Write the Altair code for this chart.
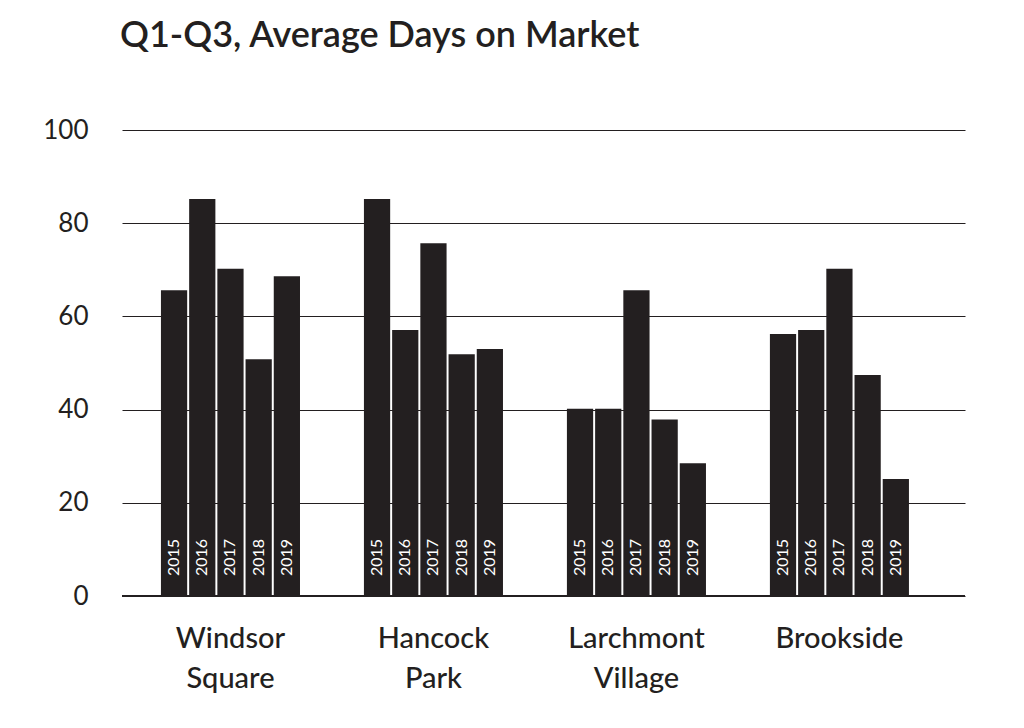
import altair as alt
import pandas as pd

neighborhoods = ["Windsor Square", "Hancock Park", "Larchmont Village", "Brookside"]
years = ["2015", "2016", "2017", "2018", "2019"]
windsor_square = [65.6, 85.2, 70.2, 50.8, 68.6]
hancock_park = [85.2, 57.1, 75.7, 51.9, 53.0]
larchmont_village = [40.2, 40.2, 65.6, 37.9, 28.5]
brookside = [56.2, 57.1, 70.2, 47.4, 25.1]

series = [windsor_square, hancock_park, larchmont_village, brookside]
rows = []
for name, vals in zip(neighborhoods, series):
    for yr, v in zip(years, vals):
        rows.append({"area": name, "year": yr, "days": v})
df = pd.DataFrame(rows)

FONT = "Lato"
DARK = "#231f20"

x_enc = alt.X(
    "area:N",
    sort=neighborhoods,
    title=None,
    scale=alt.Scale(paddingInner=0.315, paddingOuter=0.234, align=0.41),
    axis=alt.Axis(
        labelAngle=0,
        labelFont=FONT,
        labelFontSize=29,
        labelFontWeight=500,
        labelColor=DARK,
        labelPadding=28,
        labelLineHeight=40,
        labelExpr="split(datum.label, ' ')",
        domain=False,
        ticks=False,
        tickSize=0,
        grid=False,
    ),
)
xoff = alt.XOffset("year:N", sort=years, scale=alt.Scale(paddingInner=0.07, paddingOuter=0))

yscale = alt.Scale(domain=[0, 100], nice=False)
yaxis = alt.Axis(
    values=[0, 20, 40, 60, 80, 100],
    labelFont=FONT,
    labelFontSize=26,
    labelColor=DARK,
    labelPadding=34,
    domain=False,
    ticks=False,
    tickSize=0,
    grid=True,
    gridColor=DARK,
    gridWidth=1,
    gridOpacity=1,
)

base = alt.Chart(df).transform_calculate(zero="0")

bars = base.mark_bar(color=DARK).encode(
    x=x_enc,
    xOffset=xoff,
    y=alt.Y("days:Q", title=None, scale=yscale, axis=yaxis),
)

labels = base.mark_text(
    color="white",
    font=FONT,
    fontSize=16,
    angle=270,
    align="left",
    baseline="middle",
    dx=20,
).encode(
    x=x_enc,
    xOffset=xoff,
    y=alt.Y("zero:Q", title=None, scale=yscale, axis=yaxis),
    text="year:N",
)

zero = base.mark_rule(color=DARK, strokeWidth=2).encode(
    y=alt.Y("zero:Q", title=None, scale=yscale, axis=yaxis)
)

chart = (
    alt.layer(bars, labels, zero)
    .properties(
        width=843,
        height=466,
        background="white",
        title=alt.TitleParams(
            "Q1-Q3, Average Days on Market",
            anchor="start",
            frame="group",
            font=FONT,
            fontSize=36,
            fontWeight=600,
            color=DARK,
            offset=62,
            dx=-2,
        ),
        autosize=alt.AutoSizeParams(type="none"),
        padding={"left": 114, "top": 122, "right": 43, "bottom": 114},
    )
    .configure_view(strokeWidth=0, stroke="transparent")
    .configure_axisX(grid=False)
)

chart.save("out.html", embed_options={"renderer": "svg", "actions": False})
